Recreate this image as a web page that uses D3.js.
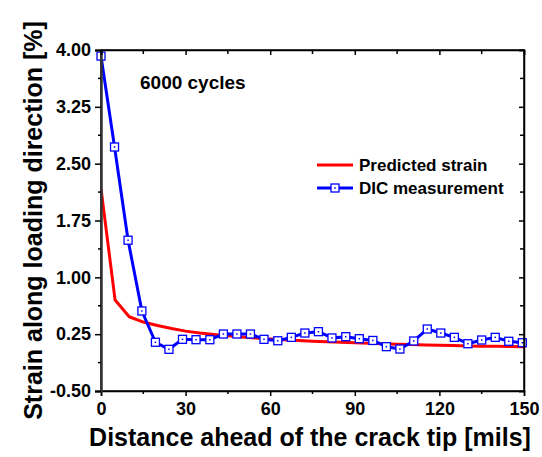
<!DOCTYPE html>
<html>
<head>
<meta charset="utf-8">
<script src="https://cdn.jsdelivr.net/npm/d3@7"></script>
<style>
  html, body { margin: 0; padding: 0; background: #fff; }
  svg { display: block; font-family: "Liberation Sans", Arial, sans-serif; font-weight: bold; }
</style>
</head>
<body>
<svg id="chart" width="542" height="457"></svg>
<script>
// Predicted strain (model) along the loading direction
const predX = [0, 5, 10, 15, 20, 25, 30, 35, 40, 45, 50, 55, 60, 65, 70, 75, 80, 85, 90, 95, 100, 105, 110, 115, 120, 125, 130, 135, 140, 145, 150];
const predY = [2.17, 0.70, 0.48, 0.41, 0.365, 0.325, 0.29, 0.265, 0.245, 0.228, 0.212, 0.198, 0.186, 0.175, 0.166, 0.158, 0.150, 0.143, 0.136, 0.130, 0.124, 0.118, 0.113, 0.108, 0.103, 0.099, 0.095, 0.092, 0.089, 0.086, 0.083];

// DIC measurement points
const dicX = [0, 4.8, 9.6, 14.5, 19.3, 24.1, 28.9, 33.7, 38.6, 43.4, 48.2, 53.0, 57.8, 62.7, 67.5, 72.3, 77.1, 81.9, 86.8, 91.6, 96.4, 101.2, 106.0, 110.9, 115.7, 120.5, 125.3, 130.1, 135.0, 139.8, 144.6, 149.4];
const dicY = [3.92, 2.72, 1.49, 0.556, 0.143, 0.050, 0.182, 0.177, 0.177, 0.252, 0.252, 0.252, 0.182, 0.163, 0.208, 0.265, 0.283, 0.200, 0.217, 0.190, 0.167, 0.085, 0.054, 0.160, 0.318, 0.265, 0.208, 0.124, 0.173, 0.208, 0.156, 0.137];

// Axis ticks
const xTicks = [0, 30, 60, 90, 120, 150];
const xMinor = [15, 45, 75, 105, 135];
const yTicks = [-0.5, 0.25, 1.0, 1.75, 2.5, 3.25, 4.0];
const yMinor = [-0.125, 0.625, 1.375, 2.125, 2.875, 3.625];

const legendLabels = ["Predicted strain", "DIC measurement"];
const annotation = "6000 cycles";
const xTitle = "Distance ahead of the crack tip [mils]";
const yTitle = "Strain along loading direction [%]";

const margin = { left: 101, right: 18, top: 50, bottom: 66 };
const W = 542, H = 457;
const x0 = margin.left, x1 = W - margin.right;
const y0 = margin.top, y1 = H - margin.bottom;

const svg = d3.select("#chart");
const x = d3.scaleLinear().domain([0, 150]).range([x0, x1]);
const y = d3.scaleLinear().domain([-0.5, 4.0]).range([y1, y0]);

const plot = svg.append("g");
svg.append("clipPath").attr("id", "clip")
  .append("rect").attr("x", x0).attr("y", y0 - 2).attr("width", x1 - x0).attr("height", y1 - y0 + 2);

const predData = predX.map((v, i) => [v, predY[i]]);
const dicData = dicX.map((v, i) => [v, dicY[i]]);
const line = d3.line().x(d => x(d[0])).y(d => y(d[1]));

// Predicted strain line
plot.append("path").datum(predData)
  .attr("d", line).attr("fill", "none")
  .attr("stroke", "#ff0000").attr("stroke-width", 3).attr("stroke-linejoin", "round")
  .attr("clip-path", "url(#clip)");

// DIC measurement line
plot.append("path").datum(dicData)
  .attr("d", line).attr("fill", "none")
  .attr("stroke", "#0000ff").attr("stroke-width", 3).attr("stroke-linejoin", "round");

function marker(g, cx, cy) {
  g.append("rect").attr("x", cx - 4).attr("y", cy - 4).attr("width", 8).attr("height", 8)
    .attr("fill", "#fff").attr("stroke", "#0000ff").attr("stroke-width", 1.3);
  g.append("rect").attr("x", cx - 0.75).attr("y", cy - 0.75).attr("width", 1.5).attr("height", 1.5)
    .attr("fill", "#0000ff");
}
const markers = plot.append("g");
dicData.forEach(d => marker(markers, x(d[0]), y(d[1])));

// Frame
svg.append("rect").attr("x", x0).attr("y", y0).attr("width", x1 - x0).attr("height", y1 - y0)
  .attr("fill", "none").attr("stroke", "#000").attr("stroke-width", 1.5);

// Plain hyphen for negative tick labels
const yFmt = v => d3.format(".2f")(v).replace("\u2212", "-");

// Bottom axis (outward ticks)
const axBottom = svg.append("g").attr("transform", `translate(0,${y1})`)
  .call(d3.axisBottom(x).tickValues(xTicks).tickSize(5).tickPadding(6).tickFormat(d3.format("d")));
axBottom.append("g").selectAll("line").data(xMinor).join("line")
  .attr("x1", d => x(d)).attr("x2", d => x(d)).attr("y1", 0).attr("y2", 3).attr("stroke", "#000").attr("stroke-width", 1.5);

// Left axis (outward ticks)
const axLeft = svg.append("g").attr("transform", `translate(${x0},0)`)
  .call(d3.axisLeft(y).tickValues(yTicks).tickSize(6).tickPadding(4).tickFormat(yFmt));
axLeft.append("g").selectAll("line").data(yMinor).join("line")
  .attr("y1", d => y(d)).attr("y2", d => y(d)).attr("x1", 0).attr("x2", -3).attr("stroke", "#000").attr("stroke-width", 1.5);

// Top and right axes (inward ticks, no labels)
const axTop = svg.append("g").attr("transform", `translate(0,${y0})`)
  .call(d3.axisTop(x).tickValues(xTicks).tickSize(-5).tickFormat(""));
axTop.append("g").selectAll("line").data(xMinor).join("line")
  .attr("x1", d => x(d)).attr("x2", d => x(d)).attr("y1", 0).attr("y2", 4).attr("stroke", "#000").attr("stroke-width", 1.5);
const axRight = svg.append("g").attr("transform", `translate(${x1},0)`)
  .call(d3.axisRight(y).tickValues(yTicks).tickSize(-5).tickFormat(""));
axRight.append("g").selectAll("line").data(yMinor).join("line")
  .attr("y1", d => y(d)).attr("y2", d => y(d)).attr("x1", 0).attr("x2", -4).attr("stroke", "#000").attr("stroke-width", 1.5);

[axBottom, axLeft, axTop, axRight].forEach(g => {
  g.select(".domain").attr("stroke", "#000").attr("stroke-width", 1.5);
  g.selectAll(".tick line").attr("stroke", "#000").attr("stroke-width", 1.5);
  g.selectAll("text").attr("font-family", "Liberation Sans, Arial, sans-serif")
    .attr("font-weight", "bold").attr("font-size", 18).attr("fill", "#000");
});
axLeft.select(".domain").attr("stroke", "#333").attr("stroke-width", 2.5);

// Axis titles
svg.append("text").attr("x", 310).attr("y", 446)
  .attr("text-anchor", "middle").attr("font-size", 25).text(xTitle);
svg.append("text").attr("transform", `translate(42,${(y0 + y1) / 2}) rotate(-90)`)
  .attr("text-anchor", "middle").attr("font-size", 25).text(yTitle);

// Annotation
svg.append("text").attr("x", 140).attr("y", 89).attr("font-size", 19).text(annotation);

// Legend
const lg = svg.append("g");
lg.append("line").attr("x1", 317).attr("x2", 353).attr("y1", 165).attr("y2", 165)
  .attr("stroke", "#ff0000").attr("stroke-width", 3);
lg.append("text").attr("x", 359).attr("y", 171).attr("font-size", 17).text(legendLabels[0]);
lg.append("line").attr("x1", 317).attr("x2", 353).attr("y1", 188).attr("y2", 188)
  .attr("stroke", "#0000ff").attr("stroke-width", 3);
marker(lg, 335, 188);
lg.append("text").attr("x", 359).attr("y", 194).attr("font-size", 17).text(legendLabels[1]);
</script>
</body>
</html>
